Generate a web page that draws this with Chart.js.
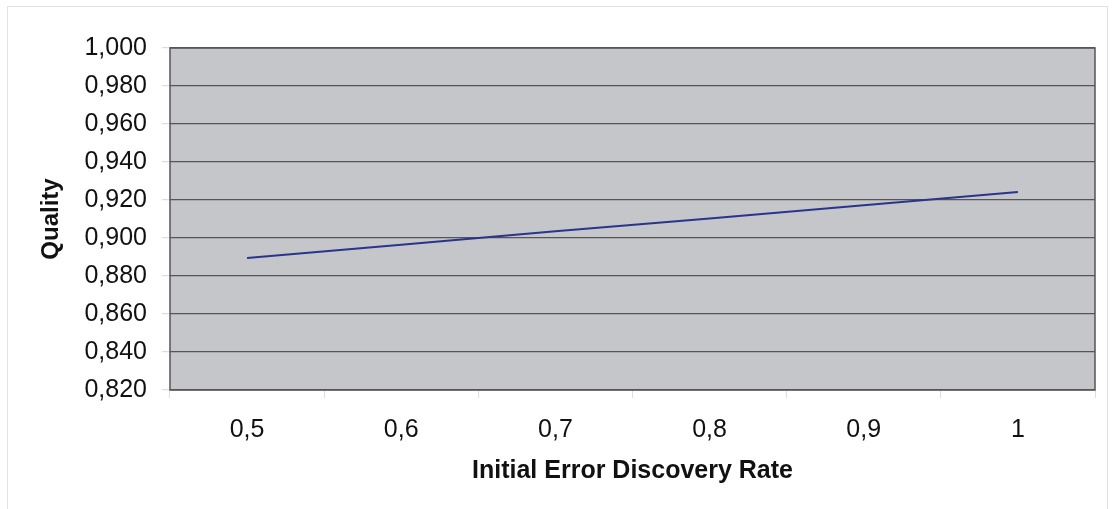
<!DOCTYPE html>
<html lang="en">
<head>
    <meta charset="UTF-8">
    <title>Quality vs Initial Error Discovery Rate</title>
    <style>
        body {
            margin: 0;
            padding: 0;
            background-color: #fff;
        }

        #wrap {
            width: 1113px;
            height: 509px;
        }
    </style>
    <script src="https://cdn.jsdelivr.net/npm/chart.js"></script>
</head>
<body>
    <div id="wrap">
        <canvas id="lineChart" width="1113" height="509"></canvas>
    </div>

    <script>
        const rates = ['0,5', '0,6', '0,7', '0,8', '0,9', '1'];
        const quality = [0.8895, 0.8965, 0.9035, 0.9103, 0.9172, 0.9242];
        const yMin = 0.82;
        const yMax = 1.0;
        const yStep = 0.02;

        // grey plot area, dark frame and faint outer border
        const frame = {
            id: 'frame',
            beforeDraw(chart) {
                const { ctx, chartArea: a } = chart;
                ctx.save();
                ctx.fillStyle = '#c4c6ca';
                ctx.fillRect(a.left, a.top, a.right - a.left, a.bottom - a.top);
                ctx.strokeStyle = '#e2e2e2';
                ctx.lineWidth = 1;
                ctx.strokeRect(7.5, 6.5, 1100, 520);
                ctx.restore();
            },
            afterDraw(chart) {
                const { ctx, chartArea: a } = chart;
                ctx.save();
                ctx.strokeStyle = '#555';
                ctx.lineWidth = 1.5;
                ctx.strokeRect(a.left, a.top, a.right - a.left, a.bottom - a.top);
                ctx.restore();
            }
        };

        const font = 'Liberation Sans, Arial, sans-serif';

        const ctx = document.getElementById('lineChart').getContext('2d');
        new Chart(ctx, {
            type: 'line',
            data: {
                labels: rates,
                datasets: [{
                    label: 'Quality',
                    data: quality,
                    borderColor: '#2b348c',
                    borderWidth: 2,
                    pointRadius: 0,
                    tension: 0
                }]
            },
            options: {
                responsive: false,
                animation: false,
                layout: {
                    padding: { left: 37, top: 48, right: 18, bottom: 23 }
                },
                plugins: {
                    legend: { display: false },
                    tooltip: { enabled: false }
                },
                scales: {
                    x: {
                        offset: true,
                        afterFit(scale) { scale.height = 96; },
                        grid: {
                            offset: true,
                            drawOnChartArea: false,
                            tickLength: 8,
                            tickColor: '#dcdcdc'
                        },
                        border: { display: false },
                        ticks: {
                            color: '#111',
                            padding: 17,
                            maxRotation: 0,
                            font: { family: font, size: 25 }
                        },
                        title: {
                            display: true,
                            text: 'Initial Error Discovery Rate',
                            color: '#111',
                            padding: 0,
                            font: { family: font, size: 25, weight: 'bold' }
                        }
                    },
                    y: {
                        min: yMin,
                        max: yMax,
                        afterFit(scale) { scale.width = 133; },
                        grid: {
                            color: '#555',
                            lineWidth: 1.2,
                            tickLength: 8,
                            tickColor: '#dcdcdc'
                        },
                        border: { display: false },
                        ticks: {
                            stepSize: yStep,
                            color: '#111',
                            padding: 15,
                            font: { family: font, size: 25 },
                            callback: v => v.toFixed(3).replace('.', ',')
                        },
                        title: {
                            display: true,
                            text: 'Quality',
                            color: '#111',
                            padding: 0,
                            font: { family: font, size: 24, weight: 'bold' }
                        }
                    }
                }
            },
            plugins: [frame]
        });
    </script>
</body>
</html>
